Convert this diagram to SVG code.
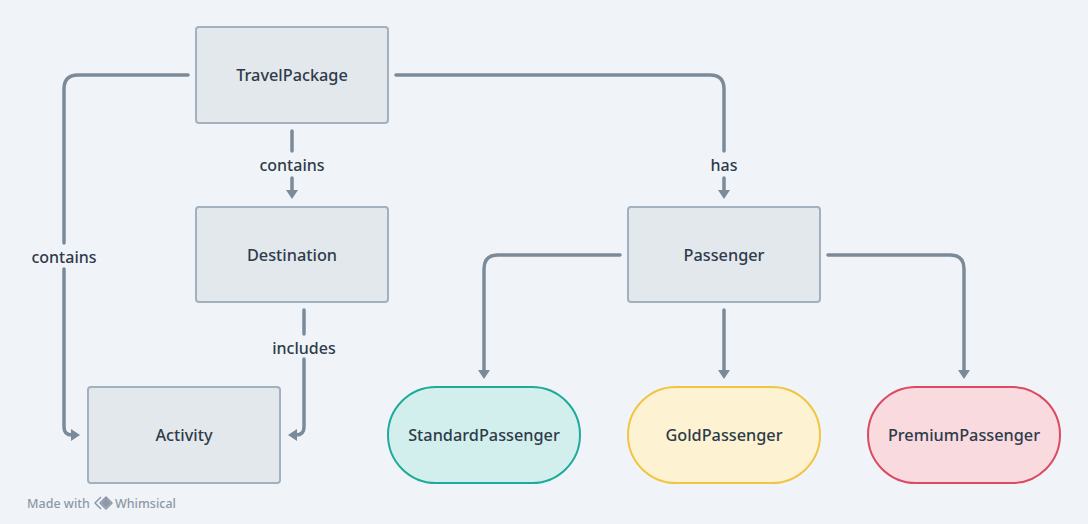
<svg xmlns="http://www.w3.org/2000/svg" width="1088" height="524" viewBox="0 0 1088 524">
<style>
.bg{fill:#f0f4f8}
.box{fill:#e3e8ed;stroke:#a3b1bf;stroke-width:2}
.std{fill:#d3efed;stroke:#1fab9a;stroke-width:2}
.gold{fill:#fdf3d2;stroke:#f0c541;stroke-width:2}
.prem{fill:#f9dadf;stroke:#db4a61;stroke-width:2}
.t{font-family:"Noto Sans",Lato,sans-serif;font-size:16.3px;font-weight:500;fill:#2e3b4a;text-anchor:middle;dominant-baseline:central}
.lbl{font-family:"Noto Sans",Lato,sans-serif;font-size:16px;font-weight:500;fill:#2e3b4a;text-anchor:middle;dominant-baseline:central}
.c{fill:none;stroke:#7b8a99;stroke-width:3.5;stroke-linecap:round;stroke-linejoin:round}
.foot{font-family:"Noto Sans",Lato,sans-serif;font-size:12.5px;font-weight:500;fill:#8d99a6}
</style>
<defs>
<marker id="ah" markerUnits="userSpaceOnUse" markerWidth="12" markerHeight="12" refX="4" refY="6" orient="auto">
<path d="M0,0 L9,6 L0,12 z" fill="#7b8a99"/>
</marker>
</defs>
<rect class="bg" x="0" y="0" width="1088" height="524"/>
<g id="connectors">
<path class="c" d="M188,75 H78 Q64,75 64,89 V243"/>
<path class="c" d="M64,269 V427 Q64,435 72,435 H75" marker-end="url(#ah)"/>
<text class="lbl" x="64" y="257">contains</text>
<path class="c" d="M292,131 V151"/>
<path class="c" d="M292,178 V194" marker-end="url(#ah)"/>
<text class="lbl" x="292" y="165">contains</text>
<path class="c" d="M304,310 V334"/>
<path class="c" d="M304,359 V427 Q304,435 296,435 H293" marker-end="url(#ah)"/>
<text class="lbl" x="304" y="348">includes</text>
<path class="c" d="M396,75 H710 Q724,75 724,89 V151"/>
<path class="c" d="M724,178 V194" marker-end="url(#ah)"/>
<text class="lbl" x="724" y="165">has</text>
<path class="c" d="M620,255 H498 Q484,255 484,269 V374" marker-end="url(#ah)"/>
<path class="c" d="M724,310 V374" marker-end="url(#ah)"/>
<path class="c" d="M828,255 H950 Q964,255 964,269 V374" marker-end="url(#ah)"/>
</g>
<g id="TravelPackage">
<rect class="box" x="196" y="27" width="192" height="96" rx="3"/>
<text class="t" x="292" y="75">TravelPackage</text>
</g>
<g id="Destination">
<rect class="box" x="196" y="207" width="192" height="95" rx="3"/>
<text class="t" x="292" y="255">Destination</text>
</g>
<g id="Activity">
<rect class="box" x="88" y="387" width="192" height="96" rx="3"/>
<text class="t" x="184" y="435">Activity</text>
</g>
<g id="Passenger">
<rect class="box" x="628" y="207" width="192" height="95" rx="3"/>
<text class="t" x="724" y="255">Passenger</text>
</g>
<g id="StandardPassenger">
<rect class="std" x="388" y="387" width="192" height="96" rx="48"/>
<text class="t" x="484" y="435">StandardPassenger</text>
</g>
<g id="GoldPassenger">
<rect class="gold" x="628" y="387" width="192" height="96" rx="48"/>
<text class="t" x="724" y="435">GoldPassenger</text>
</g>
<g id="PremiumPassenger">
<rect class="prem" x="868" y="387" width="192" height="96" rx="48"/>
<text class="t" x="964" y="435">PremiumPassenger</text>
</g>
<g id="footer">
<text class="foot" x="27" y="508">Made with</text>
<path d="M101,509 L95,503 L101,497 M106,497 L112,503 L106,509 L100,503 z" fill="none" stroke="#8d99a6" stroke-width="1.5" stroke-linejoin="round"/>
<path d="M106,498 L111,503 L106,508 L101,503 z" fill="#8d99a6"/>
<text class="foot" x="115" y="508">Whimsical</text>
</g>
</svg>
